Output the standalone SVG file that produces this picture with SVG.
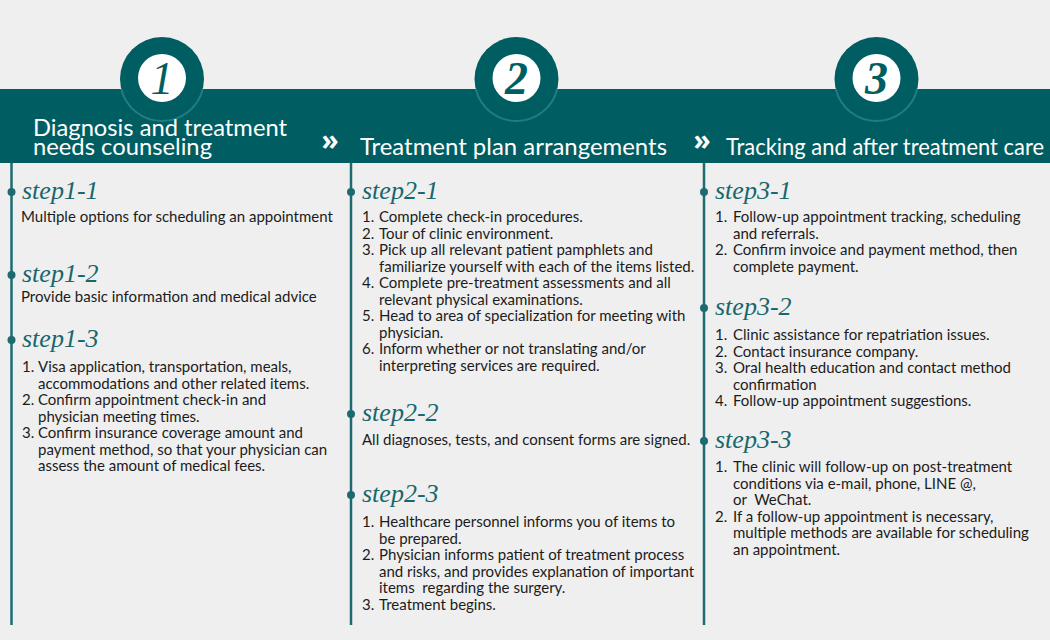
<svg xmlns="http://www.w3.org/2000/svg" width="1050" height="640" viewBox="0 0 1050 640">
<style>
.bg{fill:#efefef}
.band{fill:#005e62}
.ring{fill:#005e62}
.glow{fill:none;stroke:#2a8a8f;stroke-width:2;opacity:.75}
.inner{fill:#ffffff}
.num{font-family:"Liberation Serif",serif;font-style:italic;font-size:46px;fill:#005e62;text-anchor:middle}
.bold{font-weight:bold}
.title{font-family:Lato,"Open Sans",sans-serif;font-size:23px;fill:#ffffff}
.chev{font-family:"Open Sans","Noto Sans",sans-serif;font-weight:bold;font-size:28px;fill:#ffffff;text-anchor:middle}
.line{stroke:#1d6b70;stroke-width:2.5}
.dot{fill:#1d6b70}
.step{font-family:"Liberation Serif",serif;font-style:italic;font-size:26px;fill:#17676c}
.body{font-family:Lato,"Open Sans",sans-serif;font-size:15px;fill:#1c1c1c}
</style>
<rect class="bg" x="0" y="0" width="1050" height="640"/>
<rect class="band" x="0" y="89" width="1050" height="74"/>

<g id="connectors">
<line class="line" x1="11.5" y1="163" x2="11.5" y2="625"/>
<line class="line" x1="351" y1="163" x2="351" y2="625"/>
<line class="line" x1="704" y1="163" x2="704" y2="625"/>
<text class="chev" x="330" y="150">»</text>
<text class="chev" x="702" y="150">»</text>
</g>

<g id="phase1">
<circle class="ring" cx="162" cy="79" r="42"/>
<path class="glow" d="M121.2,89 A42 42 0 0 0 202.8,89"/>
<circle class="inner" cx="162" cy="78" r="24"/>
<text class="num" x="162" y="94">1</text>
<text class="title" x="33" y="136" textLength="254" lengthAdjust="spacingAndGlyphs">Diagnosis and treatment</text>
<text class="title" x="33" y="155" textLength="179" lengthAdjust="spacingAndGlyphs">needs counseling</text>
</g>

<g id="phase2">
<circle class="ring" cx="516.5" cy="79" r="42"/>
<path class="glow" d="M475.7,89 A42 42 0 0 0 557.3,89"/>
<circle class="inner" cx="516.5" cy="78" r="24"/>
<text class="num bold" x="516.5" y="94">2</text>
<text class="title" x="360" y="155" textLength="307" lengthAdjust="spacingAndGlyphs">Treatment plan arrangements</text>
</g>

<g id="phase3">
<circle class="ring" cx="876.5" cy="79" r="42"/>
<path class="glow" d="M835.7,89 A42 42 0 0 0 917.3,89"/>
<circle class="inner" cx="876.5" cy="78" r="24"/>
<text class="num bold" x="876.5" y="94">3</text>
<text class="title" x="726" y="155" textLength="318" lengthAdjust="spacingAndGlyphs">Tracking and after treatment care</text>
</g>

<g id="step1-1">
<circle class="dot" cx="11.5" cy="192" r="4"/>
<text class="step" x="22" y="199">step1-1</text>
<text class="body" x="21" y="222">Multiple options for scheduling an appointment</text>
</g>
<g id="step1-2">
<circle class="dot" cx="11.5" cy="275" r="4"/>
<text class="step" x="22" y="282">step1-2</text>
<text class="body" x="21" y="302">Provide basic information and medical advice</text>
</g>
<g id="step1-3">
<circle class="dot" cx="11.5" cy="340" r="4"/>
<text class="step" x="22" y="347">step1-3</text>
<text class="body" y="372"><tspan x="22">1.</tspan><tspan x="38">Visa application, transportation, meals,</tspan></text>
<text class="body" x="38" y="388.5">accommodations and other related items.</text>
<text class="body" y="405"><tspan x="22">2.</tspan><tspan x="38">Confirm appointment check-in and</tspan></text>
<text class="body" x="38" y="421.5">physician meeting times.</text>
<text class="body" y="438"><tspan x="22">3.</tspan><tspan x="38">Confirm insurance coverage amount and</tspan></text>
<text class="body" x="38" y="454.5">payment method, so that your physician can</text>
<text class="body" x="38" y="471">assess the amount of medical fees.</text>
</g>

<g id="step2-1">
<circle class="dot" cx="351" cy="192" r="4"/>
<text class="step" x="362" y="199">step2-1</text>
<text class="body" y="222"><tspan x="362">1.</tspan><tspan x="379">Complete check-in procedures.</tspan></text>
<text class="body" y="238.5"><tspan x="362">2.</tspan><tspan x="379">Tour of clinic environment.</tspan></text>
<text class="body" y="255"><tspan x="362">3.</tspan><tspan x="379">Pick up all relevant patient pamphlets and</tspan></text>
<text class="body" x="379" y="271.5">familiarize yourself with each of the items listed.</text>
<text class="body" y="288"><tspan x="362">4.</tspan><tspan x="379">Complete pre-treatment assessments and all</tspan></text>
<text class="body" x="379" y="304.5">relevant physical examinations.</text>
<text class="body" y="321"><tspan x="362">5.</tspan><tspan x="379">Head to area of specialization for meeting with</tspan></text>
<text class="body" x="379" y="337.5">physician.</text>
<text class="body" y="354"><tspan x="362">6.</tspan><tspan x="379">Inform whether or not translating and/or</tspan></text>
<text class="body" x="379" y="370.5">interpreting services are required.</text>
</g>
<g id="step2-2">
<circle class="dot" cx="351" cy="414" r="4"/>
<text class="step" x="362" y="421">step2-2</text>
<text class="body" x="362" y="445">All diagnoses, tests, and consent forms are signed.</text>
</g>
<g id="step2-3">
<circle class="dot" cx="351" cy="495" r="4"/>
<text class="step" x="362" y="502">step2-3</text>
<text class="body" y="527"><tspan x="362">1.</tspan><tspan x="379">Healthcare personnel informs you of items to</tspan></text>
<text class="body" x="379" y="543.5">be prepared.</text>
<text class="body" y="560"><tspan x="362">2.</tspan><tspan x="379">Physician informs patient of treatment process</tspan></text>
<text class="body" x="379" y="576.5">and risks, and provides explanation of important</text>
<text class="body" x="379" y="593" xml:space="preserve">items  regarding the surgery.</text>
<text class="body" y="609.5"><tspan x="362">3.</tspan><tspan x="379">Treatment begins.</tspan></text>
</g>

<g id="step3-1">
<circle class="dot" cx="704" cy="192" r="4"/>
<text class="step" x="715" y="199">step3-1</text>
<text class="body" y="222"><tspan x="715">1.</tspan><tspan x="733">Follow-up appointment tracking, scheduling</tspan></text>
<text class="body" x="733" y="238.5">and referrals.</text>
<text class="body" y="255"><tspan x="715">2.</tspan><tspan x="733">Confirm invoice and payment method, then</tspan></text>
<text class="body" x="733" y="271.5">complete payment.</text>
</g>
<g id="step3-2">
<circle class="dot" cx="704" cy="308" r="4"/>
<text class="step" x="715" y="315">step3-2</text>
<text class="body" y="340"><tspan x="715">1.</tspan><tspan x="733">Clinic assistance for repatriation issues.</tspan></text>
<text class="body" y="356.5"><tspan x="715">2.</tspan><tspan x="733">Contact insurance company.</tspan></text>
<text class="body" y="373"><tspan x="715">3.</tspan><tspan x="733">Oral health education and contact method</tspan></text>
<text class="body" x="733" y="389.5">confirmation</text>
<text class="body" y="406"><tspan x="715">4.</tspan><tspan x="733">Follow-up appointment suggestions.</tspan></text>
</g>
<g id="step3-3">
<circle class="dot" cx="704" cy="441" r="4"/>
<text class="step" x="715" y="448">step3-3</text>
<text class="body" y="472"><tspan x="715">1.</tspan><tspan x="733">The clinic will follow-up on post-treatment</tspan></text>
<text class="body" x="733" y="488.5">conditions via e-mail, phone, LINE @,</text>
<text class="body" x="733" y="505" xml:space="preserve">or  WeChat.</text>
<text class="body" y="521.5"><tspan x="715">2.</tspan><tspan x="733">If a follow-up appointment is necessary,</tspan></text>
<text class="body" x="733" y="538">multiple methods are available for scheduling</text>
<text class="body" x="733" y="554.5">an appointment.</text>
</g>
</svg>
